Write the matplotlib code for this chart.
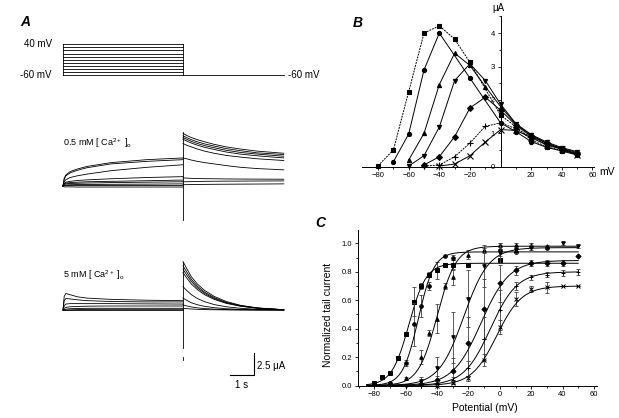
import numpy as np
import matplotlib
matplotlib.use("Agg")
import matplotlib.pyplot as plt
from matplotlib.ticker import MultipleLocator, FixedLocator

W, H = 619, 418
plt.rcParams['font.family'] = ['Liberation Sans', 'DejaVu Sans']
plt.rcParams['mathtext.fontset'] = 'custom'
plt.rcParams['mathtext.rm'] = 'Liberation Sans'
plt.rcParams['mathtext.it'] = 'Liberation Sans:italic'

# ---- panel A: voltage protocol and current traces ----
step_levels = [-60, -50, -40, -30, -20, -10, 0, 10, 20, 30, 40]   # mV
hold_mv = -60
step_dur = 5.0      # s
tail_dur = 4.2      # s

step_t = [0, 0.05, 0.12, 0.3, 0.6, 1.0, 2.0, 3.5, 5.0]
tail_t = [0, 0.15, 0.35, 0.6, 0.9, 1.3, 1.8, 2.4, 3.1, 4.2]

low_ca_step = [
    [0, 0.9, 1.3, 1.7, 2.0, 2.3, 2.75, 3.1, 3.3],
    [0, 0.8, 1.2, 1.55, 1.85, 2.15, 2.6, 2.9, 3.1],
    [0, 0.5, 0.75, 1.0, 1.2, 1.4, 1.8, 2.2, 2.5],
    [0, 0.3, 0.45, 0.55, 0.65, 0.72, 0.85, 1.0, 1.1],
    [0, 0.25, 0.35, 0.4, 0.45, 0.5, 0.55, 0.62, 0.7],
    [0, 0.2, 0.25, 0.3, 0.32, 0.35, 0.4, 0.45, 0.5],
    [0, 0.1, 0.12, 0.15, 0.17, 0.18, 0.2, 0.22, 0.25],
    [0, 0.05, 0.05, 0.05, 0.05, 0.05, 0.05, 0.05, 0.05],
    [0, -0.1, -0.1, -0.1, -0.12, -0.12, -0.12, -0.12, -0.12],
]
low_ca_tail = [
    [6.2, 5.95, 5.7, 5.45, 5.2, 4.9, 4.6, 4.35, 4.1, 3.85],
    [5.9, 5.7, 5.45, 5.2, 4.95, 4.7, 4.4, 4.15, 3.9, 3.7],
    [5.7, 5.5, 5.25, 5.0, 4.75, 4.5, 4.2, 3.95, 3.75, 3.5],
    [5.5, 5.3, 5.05, 4.8, 4.55, 4.3, 4.0, 3.75, 3.55, 3.3],
    [5.0, 4.8, 4.6, 4.35, 4.1, 3.85, 3.6, 3.4, 3.2, 3.0],
    [3.3, 3.2, 3.05, 2.9, 2.75, 2.6, 2.4, 2.2, 2.05, 1.9],
    [0.95, 0.93, 0.9, 0.88, 0.86, 0.85, 0.83, 0.82, 0.81, 0.8],
    [0.5, 0.5, 0.52, 0.53, 0.55, 0.56, 0.57, 0.58, 0.59, 0.6],
    [0.15, 0.16, 0.17, 0.18, 0.19, 0.2, 0.21, 0.22, 0.23, 0.25],
]
low_ca_artifact = (6.4, -4.0)

high_ca_step = [
    [0, 1.6, 1.95, 1.8, 1.55, 1.4, 1.25, 1.15, 1.1],
    [0, 1.1, 1.35, 1.3, 1.2, 1.1, 1.0, 0.95, 0.95],
    [0, 0.5, 0.7, 0.75, 0.75, 0.75, 0.75, 0.72, 0.7],
    [0, 0.2, 0.3, 0.38, 0.42, 0.45, 0.47, 0.47, 0.47],
    [0, 0.05, 0.1, 0.15, 0.18, 0.2, 0.2, 0.2, 0.2],
    [0, 0, 0, 0.02, 0.05, 0.07, 0.08, 0.08, 0.08],
    [0, 0, 0, 0, 0, 0, 0, 0, 0],
]
high_ca_tail = [
    [5.7, 4.9, 3.9, 3.05, 2.3, 1.6, 1.0, 0.55, 0.25, 0.03],
    [5.2, 4.5, 3.6, 2.8, 2.1, 1.45, 0.9, 0.5, 0.23, 0.03],
    [4.8, 4.15, 3.35, 2.6, 1.95, 1.35, 0.85, 0.47, 0.22, 0.03],
    [4.4, 3.8, 3.05, 2.4, 1.8, 1.25, 0.78, 0.44, 0.2, 0.03],
    [2.75, 2.3, 1.8, 1.35, 0.98, 0.64, 0.38, 0.2, 0.08, 0.0],
    [1.4, 1.15, 0.85, 0.62, 0.43, 0.27, 0.15, 0.07, 0.03, 0.0],
    [0.6, 0.48, 0.36, 0.25, 0.17, 0.1, 0.05, 0.02, 0.0, 0.0],
    [0.2, 0.16, 0.12, 0.08, 0.05, 0.03, 0.01, 0.0, 0.0, 0.0],
]
high_ca_artifact = (5.7, -4.5)

scale_t = 1.0    # s
scale_i = 2.5    # uA

# ---- panel B: I-V curves (uA) ----
iv_series = [
    ('s', '--', [-80, -70, -60, -50, -40, -30, -20, 0, 10, 20, 30, 40, 50],
     [0.03, 0.5, 2.25, 4.0, 4.22, 3.82, 3.12, 1.54, 1.2, 0.8, 0.6, 0.48, 0.38]),
    ('o', '-', [-70, -60, -50, -40, -20, 0, 10, 20, 30, 40, 50],
     [0.15, 0.98, 2.9, 4.0, 2.65, 1.31, 1.05, 0.75, 0.58, 0.47, 0.35]),
    ('^', '-', [-60, -50, -40, -30, -20, -10, 0, 10, 20, 30, 40, 50],
     [0.2, 1.0, 2.46, 3.4, 3.03, 2.4, 1.8, 1.27, 0.94, 0.71, 0.55, 0.42]),
    ('v', '-', [-60, -50, -40, -30, -20, -10, 0, 10, 20, 30, 40, 50],
     [0.02, 0.33, 1.19, 2.58, 3.08, 2.58, 1.87, 1.29, 0.96, 0.74, 0.57, 0.45]),
    ('D', '-', [-50, -40, -30, -20, -10, 0, 10, 20, 30, 40, 50],
     [0.05, 0.3, 0.9, 1.76, 2.08, 1.69, 1.24, 0.91, 0.7, 0.53, 0.38]),
    ('+', '--', [-50, -40, -30, -20, -10, 0, 10, 20, 30, 40, 50],
     [0.02, 0.05, 0.3, 0.71, 1.21, 1.31, 1.14, 0.89, 0.67, 0.53, 0.4]),
    ('x', '-', [-40, -30, -20, -10, 0, 10, 20, 30, 40, 50],
     [0.02, 0.08, 0.33, 0.74, 1.11, 1.09, 0.87, 0.65, 0.52, 0.35]),
]

# ---- panel C: normalized tail current, mean +/- error, Boltzmann fit (A, V1/2, k) ----
act_series = [
    ('s', [-80, -75, -70, -65, -60, -55, -50, -45, -40, -35, -30, -20, 0],
     [0.02, 0.06, 0.09, 0.19, 0.36, 0.59, 0.70, 0.78, 0.81, 0.85, 0.85, 0.85, 0.88],
     [0, 0, 0, 0, 0.01, 0.1, 0.02, 0.02, 0.06, 0.01, 0.03, 0, 0.02], (0.86, -58, 5.5)),
    ('o', [-70, -60, -55, -50, -45, -35, -30, 0, 10, 30],
     [0.02, 0.16, 0.43, 0.56, 0.70, 0.91, 0.90, 0.95, 0.94, 0.97],
     [0, 0.02, 0.15, 0.08, 0.03, 0, 0.02, 0.04, 0, 0], (0.94, -52, 5.0)),
    ('^', [-60, -50, -45, -40, -35, -30, -20, -10, 0, 10, 20, 30],
     [0.05, 0.20, 0.37, 0.47, 0.70, 0.76, 0.92, 0.95, 0.99, 0.99, 0.99, 0.98],
     [0.01, 0.05, 0.02, 0.1, 0.02, 0.05, 0.03, 0.02, 0.01, 0.01, 0.01, 0.01], (0.98, -40, 6.0)),
    ('v', [-60, -50, -40, -30, -20, -10, 0, 10, 20, 40, 50],
     [0.0, 0.03, 0.12, 0.34, 0.61, 0.84, 0.93, 0.95, 0.97, 1.0, 0.98],
     [0.0, 0.03, 0.08, 0.18, 0.2, 0.15, 0.07, 0.02, 0.02, 0.01, 0.01], (0.97, -23, 8.0)),
    ('D', [-50, -40, -30, -20, -10, 0, 10, 20, 30, 40, 50],
     [0.01, 0.04, 0.10, 0.30, 0.54, 0.72, 0.81, 0.86, 0.86, 0.86, 0.91],
     [0.01, 0.03, 0.09, 0.18, 0.21, 0.13, 0.03, 0.02, 0.02, 0.02, 0.0], (0.88, -12, 9.0)),
    ('+', [-50, -40, -30, -20, -10, 0, 10, 20, 30, 40, 50],
     [0.0, 0.02, 0.04, 0.12, 0.33, 0.53, 0.70, 0.76, 0.78, 0.79, 0.80],
     [0, 0.01, 0.02, 0.05, 0.15, 0.14, 0.03, 0.02, 0.02, 0.02, 0.02], (0.80, -6, 8.5)),
    ('x', [-40, -30, -20, -10, 0, 10, 20, 30, 40, 50],
     [0.0, 0.02, 0.05, 0.18, 0.41, 0.61, 0.68, 0.69, 0.70, 0.70],
     [0, 0.01, 0.02, 0.04, 0.05, 0.05, 0.02, 0.04, 0, 0], (0.70, -2, 8.0)),
]

fig = plt.figure(figsize=(W / 100, H / 100), dpi=100)


def px_axes(x0, y0, x1, y1):
    return fig.add_axes([x0 / W, 1 - y1 / H, (x1 - x0) / W, (y1 - y0) / H])


def px_text(x, y, s, **kw):
    fig.text(x / W, 1 - y / H, s, **kw)


# time axis shared by the three A rows: t=0 at px 63, 24 px per second
T0_PX, PX_PER_S = 63, 24.0
tlim = ((40 - T0_PX) / PX_PER_S, (300 - T0_PX) / PX_PER_S)
lw = 0.6

# protocol
ax = px_axes(40, 35, 300, 85)
ax.set_xlim(tlim)
PX_PER_MV = 0.307
ax.set_ylim(-60 - (85 - 75) / PX_PER_MV, -60 + (75 - 35) / PX_PER_MV)
for v in step_levels:
    ax.plot([0, step_dur], [v, v], color='k', lw=lw)
ax.plot([0, 0], [min(step_levels), max(step_levels)], color='k', lw=lw)
ax.plot([step_dur, step_dur], [min(step_levels), max(step_levels)], color='k', lw=lw)
ax.plot([step_dur, step_dur + tail_dur], [hold_mv, hold_mv], color='k', lw=lw)
ax.axis('off')

PX_PER_UA = 8.5


def trace_axes(y0, y1, base):
    a = px_axes(40, y0, 300, y1)
    a.set_xlim(tlim)
    a.set_ylim((base - y1) / PX_PER_UA, (base - y0) / PX_PER_UA)
    a.axis('off')
    return a


def draw_traces(a, steps, tails, artifact):
    for s in steps:
        a.plot(step_t, s, color='k', lw=lw)
    for tr in tails:
        a.plot(np.array(tail_t) + step_dur, tr, color='k', lw=lw)
    a.plot([step_dur, step_dur], artifact, color='k', lw=lw)


ax1 = trace_axes(125, 225, 186)
draw_traces(ax1, low_ca_step, low_ca_tail, low_ca_artifact)

ax2 = trace_axes(250, 395, 310)
draw_traces(ax2, high_ca_step, high_ca_tail, high_ca_artifact)
ax2.plot([step_dur, step_dur], [-5.5, -5.9], color='k', lw=lw)
# scale bar
sb_t, sb_i = 7.96, -7.6
ax2.plot([sb_t - scale_t, sb_t, sb_t], [sb_i, sb_i, sb_i + scale_i], color='k', lw=0.8)

px_text(20, 22, 'A', fontsize=10, fontweight='bold', style='italic', va='center')
px_text(52, 44, '40 mV', fontsize=7, ha='right', va='center')
px_text(52, 75, '-60 mV', fontsize=7, ha='right', va='center')
px_text(288, 75, '-60 mV', fontsize=7, ha='left', va='center')
px_text(63, 143, '0.5 mM [ Ca$^{2+}$ ]$_\\mathrm{o}$', fontsize=6.5, va='center')
px_text(63, 275, '5 mM [ Ca$^{2+}$ ]$_\\mathrm{o}$', fontsize=6.5, va='center')
px_text(257, 366, '2.5 \u03bcA', fontsize=7, va='center')
px_text(242, 385, '1 s', fontsize=7, ha='center', va='center')

# ---- panel B ----
axb = px_axes(362, 16.4, 594, 166.7)
axb.set_xlim(-90.5, 61)
axb.set_ylim(0, 4.5)
for m, ls, xs, ys in iv_series:
    axb.plot(xs, ys, ls, color='k', lw=0.7, marker=m, ms=3 if m not in '+x' else 4,
             mew=0.8, mfc='k', clip_on=False, dashes=(2, 1) if ls == '--' else (None, None))
axb.spines['left'].set_position(('data', 0))
axb.spines['bottom'].set_position(('data', 0))
axb.spines['top'].set_visible(False)
axb.spines['right'].set_visible(False)
for sp in ('left', 'bottom'):
    axb.spines[sp].set_linewidth(0.7)
axb.xaxis.set_major_locator(FixedLocator([-80, -60, -40, -20, 20, 40, 60]))
axb.xaxis.set_minor_locator(FixedLocator([-70, -50, -30, -10, 10, 30, 50]))
axb.yaxis.set_major_locator(MultipleLocator(1))
axb.yaxis.set_minor_locator(MultipleLocator(0.5))
axb.tick_params(which='both', labelsize=5.5, width=0.6, pad=1.5)
axb.tick_params(which='major', length=2.5)
axb.tick_params(which='minor', length=1.5)
px_text(353, 23, 'B', fontsize=10, fontweight='bold', style='italic', va='center')
px_text(498, 8, '\u03bcA', fontsize=7, ha='center', va='center')
px_text(599, 172, 'mV', fontsize=7.5, ha='left', va='center')

# ---- panel C ----
axc = px_axes(358, 230, 597, 385.5)
axc.set_xlim(-90.5, 62)
axc.set_ylim(0, 1.094)
for m, xs, ys, es, (amp, vh, k) in act_series:
    axc.errorbar(xs, ys, yerr=es, fmt='none', ecolor='0.25', elinewidth=0.6,
                 capsize=1.5, capthick=0.6, clip_on=False)
    axc.plot(xs, ys, ls='none', marker=m, color='k', ms=2.6 if m not in '+x' else 3.5,
             mew=0.7, clip_on=False)
    v = np.linspace(-85, 50, 200)
    axc.plot(v, amp / (1 + np.exp((vh - v) / k)), color='k', lw=0.7)
axc.spines['top'].set_visible(False)
axc.spines['right'].set_visible(False)
for sp in ('left', 'bottom'):
    axc.spines[sp].set_linewidth(0.7)
axc.xaxis.set_major_locator(MultipleLocator(20))
axc.xaxis.set_minor_locator(MultipleLocator(10))
axc.yaxis.set_major_locator(MultipleLocator(0.2))
axc.yaxis.set_minor_locator(MultipleLocator(0.1))
axc.set_yticks([0, 0.2, 0.4, 0.6, 0.8, 1.0])
axc.set_yticklabels(['0.0', '0.2', '0.4', '0.6', '0.8', '1.0'])
axc.tick_params(which='both', labelsize=5.5, width=0.6, pad=1.5)
axc.tick_params(which='major', length=2.5)
axc.tick_params(which='minor', length=1.5)
px_text(315, 223, 'C', fontsize=10, fontweight='bold', style='italic', va='center')
px_text(485, 408, 'Potential (mV)', fontsize=7.5, ha='center', va='center')
px_text(328, 315, 'Normalized tail current', fontsize=7.5, ha='center', va='center',
        rotation=90)

fig.savefig('out.png', dpi=100)
